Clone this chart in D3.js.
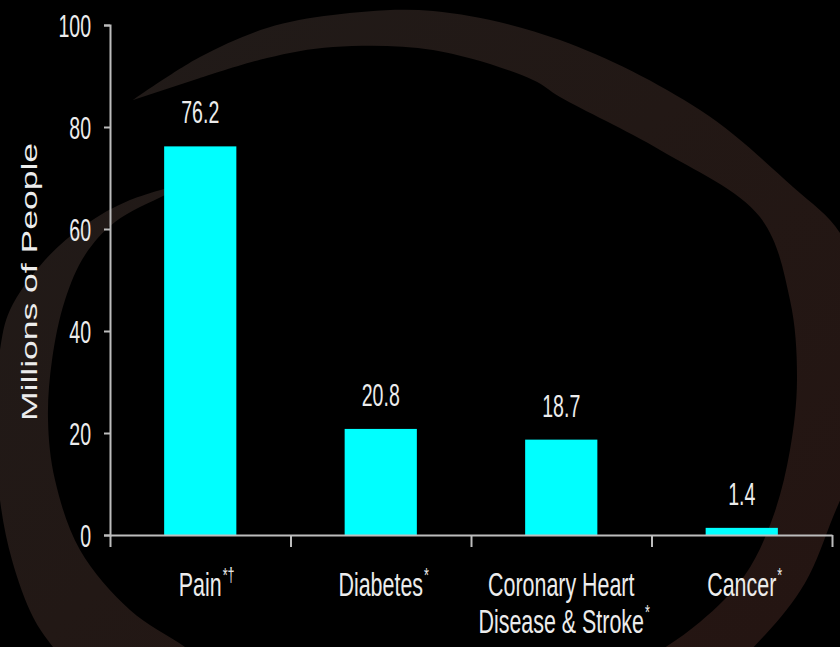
<!DOCTYPE html>
<html>
<head>
<meta charset="utf-8">
<script src="https://cdn.jsdelivr.net/npm/d3@7"></script>
<style>
  html, body { margin: 0; padding: 0; background: #000; }
  svg { display: block; }
  text { font-family: "Liberation Sans", Arial, sans-serif; fill: #ececec; }
</style>
</head>
<body>
<div id="chart"></div>
<script>
// dados
const categorias = [["Pain"], ["Diabetes"], ["Coronary Heart", "Disease & Stroke"], ["Cancer"]];
const marcas = ["*†", "*", "*", "*"];
const valores = [76.2, 20.8, 18.7, 1.4];
const yTicks = [0, 20, 40, 60, 80, 100];
const yTitulo = "Millions of People";

// contorno do "swoosh" decorativo do fundo (borda externa e depois interna)
const swooshExterno = [[133, 100], [200, 57], [267, 28], [333, 15], [433, 11], [560, 40], [700, 110],
  [793, 187], [840, 233], [862, 300], [868, 380], [855, 460], [833, 517], [805, 583], [765, 635],
  [720, 675], [600, 730], [300, 745], [100, 700], [53, 647], [33, 617], [12, 560], [0, 500],
  [-5, 420], [0, 350], [10, 310], [45, 260], [85, 225], [130, 200], [190, 183]];
const swooshInterno = [[165, 195], [115, 222], [85, 255], [65, 300], [52, 360], [48, 420], [55, 480],
  [80, 550], [130, 610], [185, 647], [230, 680], [400, 705], [560, 695], [640, 662], [700, 622],
  [745, 575], [773, 517], [790, 450], [797, 380], [790, 300], [760, 217], [660, 150], [560, 97],
  [533, 80], [433, 50], [333, 47], [267, 58], [200, 78]];

const largura = 840, altura = 647;
const SX = 0.63; // texto comprimido na horizontal como no original

const svg = d3.select('#chart')
  .append('svg')
  .attr('width', largura)
  .attr('height', altura)
  .attr('viewBox', '0 0 ' + largura + ' ' + altura);

svg.append('rect').attr('width', largura).attr('height', altura).attr('fill', '#000');

// swoosh do fundo
const grad = svg.append('defs').append('linearGradient')
  .attr('id', 'gradSwoosh')
  .attr('x1', 0).attr('y1', 0).attr('x2', 1).attr('y2', 1);
grad.append('stop').attr('offset', '0%').attr('stop-color', '#201b19');
grad.append('stop').attr('offset', '45%').attr('stop-color', '#221815');
grad.append('stop').attr('offset', '100%').attr('stop-color', '#251411');

const linhaSwoosh = d3.line().curve(d3.curveCatmullRom.alpha(0.5));
svg.append('path')
  .attr('d', linhaSwoosh(swooshExterno.concat(swooshInterno)) + 'Z')
  .attr('fill', 'url(#gradSwoosh)');

const x0 = 110, x1 = 832, yBase = 535, yTopo = 25;

const x = d3.scaleBand()
  .domain(d3.range(valores.length))
  .range([x0, x1])
  .paddingInner(0.6)
  .paddingOuter(0.3);

const xBorda = d3.scaleLinear().domain([0, valores.length]).range([x0, x1]);

const y = d3.scaleLinear().domain([0, 100]).range([yBase, yTopo]);

// barras
svg.append('g')
  .selectAll('rect')
  .data(valores)
  .enter()
  .append('rect')
  .attr('x', (d, i) => x(i))
  .attr('y', d => y(d))
  .attr('width', x.bandwidth())
  .attr('height', d => y(0) - y(d))
  .attr('fill', '#00ffff');

// rótulos dos valores
svg.append('g')
  .selectAll('text')
  .data(valores)
  .enter()
  .append('text')
  .attr('transform', (d, i) => `translate(${x(i) + x.bandwidth() / 2},${y(d) - 23}) scale(${SX},1)`)
  .attr('text-anchor', 'middle')
  .attr('font-size', 31)
  .text(d => d3.format('.1f')(d));

// eixo y
const eixoY = svg.append('g')
  .attr('transform', `translate(${x0},0)`)
  .call(d3.axisLeft(y).tickValues(yTicks).tickSize(6).tickSizeOuter(6));
eixoY.select('.domain').attr('stroke', '#bdbdbd').attr('stroke-width', 2);
eixoY.selectAll('line').attr('stroke', '#bdbdbd').attr('stroke-width', 2);
eixoY.selectAll('text')
  .attr('x', null)
  .attr('dy', '0.36em')
  .attr('font-size', 31)
  .attr('fill', '#ececec')
  .attr('transform', `translate(-19,0) scale(${SX},1)`);
eixoY.attr('font-family', null);

// eixo x (só as marcas entre as categorias)
const eixoX = svg.append('g')
  .attr('transform', `translate(0,${yBase})`)
  .call(d3.axisBottom(xBorda).tickValues(d3.range(valores.length + 1)).tickSize(12).tickSizeOuter(0).tickFormat(''));
eixoX.select('.domain').attr('stroke', '#bdbdbd').attr('stroke-width', 2);
eixoX.selectAll('line').attr('stroke', '#bdbdbd').attr('stroke-width', 2);

// rótulos das categorias
const gCat = svg.append('g');
categorias.forEach((linhas, i) => {
  const cx = x(i) + x.bandwidth() / 2;
  linhas.forEach((linha, j) => {
    const by = 596 + j * 37;
    const t = gCat.append('text')
      .attr('transform', `translate(${cx},${by}) scale(${SX},1)`)
      .attr('text-anchor', 'middle')
      .attr('font-size', 34)
      .text(linha);
    if (j === linhas.length - 1) {
      const w = t.node().getComputedTextLength() * SX;
      gCat.append('text')
        .attr('transform', `translate(${cx + w / 2 + 1},${by - 14}) scale(${SX},1)`)
        .attr('font-size', 20)
        .text(marcas[i]);
    }
  });
});

// título do eixo y
svg.append('text')
  .attr('transform', `translate(37,282) scale(${SX},1) rotate(-90)`)
  .attr('text-anchor', 'middle')
  .attr('font-size', 35.5)
  .text(yTitulo);
</script>
</body>
</html>
